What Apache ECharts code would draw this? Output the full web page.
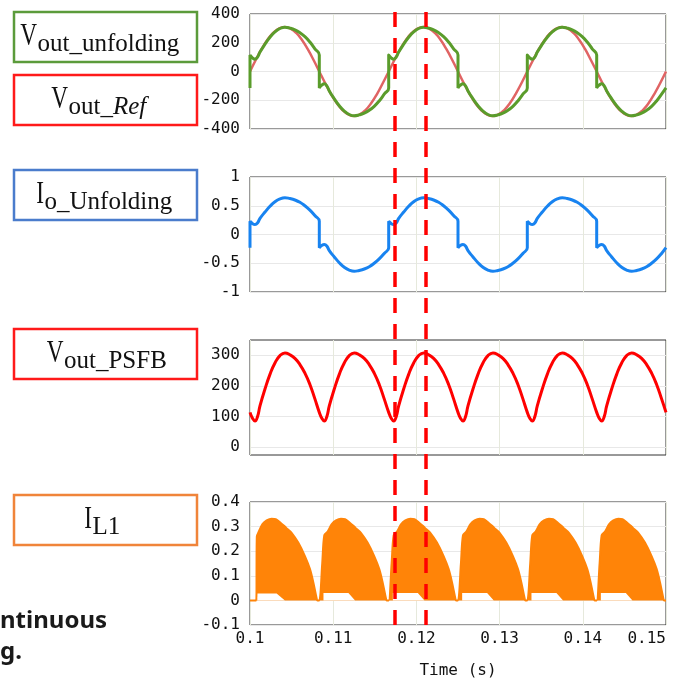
<!DOCTYPE html>
<html><head><meta charset="utf-8">
<script src="https://cdn.jsdelivr.net/npm/echarts@6/dist/echarts.min.js"></script>
<style>html,body{margin:0;padding:0;background:#fff}#c{width:673px;height:680px}</style>
</head><body><div id="c"></div><script>
// ---------- data ----------
const xTicks = [0.1, 0.11, 0.12, 0.13, 0.14, 0.15];
const psfbTicks = [0, 100, 200, 300];
const cursorTimes = [0.11744, 0.12113];

const tRef = [0.10000,0.10069,0.10139,0.10208,0.10278,0.10347,0.10417,0.10486,0.10556,0.10625,0.10694,0.10764,
0.10833,0.10903,0.10972,0.11042,0.11111,0.11181,0.11250,0.11319,0.11389,0.11458,0.11528,0.11597,
0.11667,0.11736,0.11806,0.11875,0.11944,0.12014,0.12083,0.12153,0.12222,0.12292,0.12361,0.12431,
0.12500,0.12569,0.12639,0.12708,0.12778,0.12847,0.12917,0.12986,0.13056,0.13125,0.13194,0.13264,
0.13333,0.13403,0.13472,0.13542,0.13611,0.13681,0.13750,0.13819,0.13889,0.13958,0.14028,0.14097,
0.14167,0.14236,0.14306,0.14375,0.14444,0.14514,0.14583,0.14653,0.14722,0.14792,0.14861,0.14931,0.15000];
const vRef = [0,80,155,219,268,299,310,299,268,219,155,80,0,-80,-155,-219,-268,-299,-310,-299,-268,-219,-155,-80,
0,80,155,219,268,299,310,299,268,219,155,80,0,-80,-155,-219,-268,-299,-310,-299,-268,-219,-155,-80,
0,80,155,219,268,299,310,299,268,219,155,80,0,-80,-155,-219,-268,-299,-310,-299,-268,-219,-155,-80,0];

const tUnf = [0.10000,
0.10000,0.10030,0.10060,0.10090,0.10120,0.10180,0.10240,0.10300,0.10360,0.10420,0.10480,0.10540,0.10600,0.10660,0.10720,0.10780,0.10833,
0.10833,0.10863,0.10893,0.10923,0.10953,0.11013,0.11073,0.11133,0.11193,0.11253,0.11313,0.11373,0.11433,0.11493,0.11553,0.11613,0.11667,
0.11667,0.11697,0.11727,0.11757,0.11787,0.11847,0.11907,0.11967,0.12027,0.12087,0.12147,0.12207,0.12267,0.12327,0.12387,0.12447,0.12500,
0.12500,0.12530,0.12560,0.12590,0.12620,0.12680,0.12740,0.12800,0.12860,0.12920,0.12980,0.13040,0.13100,0.13160,0.13220,0.13280,0.13333,
0.13333,0.13363,0.13393,0.13423,0.13453,0.13513,0.13573,0.13633,0.13693,0.13753,0.13813,0.13873,0.13933,0.13993,0.14053,0.14113,0.14167,
0.14167,0.14197,0.14227,0.14257,0.14287,0.14347,0.14407,0.14467,0.14527,0.14587,0.14647,0.14707,0.14767,0.14827,0.14887,0.14947,0.15000];
const vUnf = [-114,
114,95,86,100,135,190,238,275,299,308,302,290,270,242,205,158,114,
-114,-95,-86,-100,-135,-190,-238,-275,-299,-308,-302,-290,-270,-242,-205,-158,-114,
114,95,86,100,135,190,238,275,299,308,302,290,270,242,205,158,114,
-114,-95,-86,-100,-135,-190,-238,-275,-299,-308,-302,-290,-270,-242,-205,-158,-114,
114,95,86,100,135,190,238,275,299,308,302,290,270,242,205,158,114,
-114,-95,-86,-100,-135,-190,-238,-275,-299,-308,-302,-290,-270,-242,-205,-158,-114];
const iUnf = [-0.23,
0.23,0.19,0.175,0.2,0.28,0.39,0.49,0.57,0.62,0.64,0.625,0.6,0.56,0.5,0.425,0.33,0.23,
-0.23,-0.19,-0.175,-0.2,-0.28,-0.39,-0.49,-0.57,-0.62,-0.64,-0.625,-0.6,-0.56,-0.5,-0.425,-0.33,-0.23,
0.23,0.19,0.175,0.2,0.28,0.39,0.49,0.57,0.62,0.64,0.625,0.6,0.56,0.5,0.425,0.33,0.23,
-0.23,-0.19,-0.175,-0.2,-0.28,-0.39,-0.49,-0.57,-0.62,-0.64,-0.625,-0.6,-0.56,-0.5,-0.425,-0.33,-0.23,
0.23,0.19,0.175,0.2,0.28,0.39,0.49,0.57,0.62,0.64,0.625,0.6,0.56,0.5,0.425,0.33,0.23,
-0.23,-0.19,-0.175,-0.2,-0.28,-0.39,-0.49,-0.57,-0.62,-0.64,-0.625,-0.6,-0.56,-0.5,-0.425,-0.33,-0.23];

const tPsfb = [
0.10000,0.10030,0.10060,0.10090,0.10120,0.10180,0.10240,0.10300,0.10360,0.10420,0.10480,0.10540,0.10600,0.10660,0.10720,0.10780,
0.10833,0.10863,0.10893,0.10923,0.10953,0.11013,0.11073,0.11133,0.11193,0.11253,0.11313,0.11373,0.11433,0.11493,0.11553,0.11613,
0.11667,0.11697,0.11727,0.11757,0.11787,0.11847,0.11907,0.11967,0.12027,0.12087,0.12147,0.12207,0.12267,0.12327,0.12387,0.12447,
0.12500,0.12530,0.12560,0.12590,0.12620,0.12680,0.12740,0.12800,0.12860,0.12920,0.12980,0.13040,0.13100,0.13160,0.13220,0.13280,
0.13333,0.13363,0.13393,0.13423,0.13453,0.13513,0.13573,0.13633,0.13693,0.13753,0.13813,0.13873,0.13933,0.13993,0.14053,0.14113,
0.14167,0.14197,0.14227,0.14257,0.14287,0.14347,0.14407,0.14467,0.14527,0.14587,0.14647,0.14707,0.14767,0.14827,0.14887,0.14947,
0.15000];
const vPsfb = [
114,95,86,100,135,190,238,275,299,308,302,290,270,242,205,158,
114,95,86,100,135,190,238,275,299,308,302,290,270,242,205,158,
114,95,86,100,135,190,238,275,299,308,302,290,270,242,205,158,
114,95,86,100,135,190,238,275,299,308,302,290,270,242,205,158,
114,95,86,100,135,190,238,275,299,308,302,290,270,242,205,158,
114,95,86,100,135,190,238,275,299,308,302,290,270,242,205,158,
114];

const tIL = [
0.10000,0.10075,0.10082,0.10100,0.10150,0.10200,0.10260,0.10310,0.10360,0.10420,0.10450,0.10500,0.10580,0.10660,0.10720,0.10760,0.10800,0.10810,
0.10833,0.10868,0.10893,0.10933,0.10983,0.11033,0.11093,0.11143,0.11193,0.11253,0.11283,0.11333,0.11413,0.11493,0.11553,0.11593,0.11633,0.11643,
0.11667,0.11702,0.11727,0.11767,0.11817,0.11867,0.11927,0.11977,0.12027,0.12087,0.12117,0.12167,0.12247,0.12327,0.12387,0.12427,0.12467,0.12477,
0.12500,0.12535,0.12560,0.12600,0.12650,0.12700,0.12760,0.12810,0.12860,0.12920,0.12950,0.13000,0.13080,0.13160,0.13220,0.13260,0.13300,0.13310,
0.13333,0.13368,0.13393,0.13433,0.13483,0.13533,0.13593,0.13643,0.13693,0.13753,0.13783,0.13833,0.13913,0.13993,0.14053,0.14093,0.14133,0.14143,
0.14167,0.14202,0.14227,0.14267,0.14317,0.14367,0.14427,0.14477,0.14527,0.14587,0.14617,0.14667,0.14747,0.14827,0.14887,0.14927,0.14967,0.14977,
0.15000];
const uIL = [
0,0,0.26,0.275,0.31,0.325,0.332,0.33,0.318,0.30,0.29,0.275,0.235,0.18,0.128,0.075,0.01,0,
0,0.15,0.265,0.28,0.31,0.325,0.332,0.33,0.318,0.30,0.29,0.275,0.235,0.18,0.128,0.075,0.01,0,
0,0.15,0.265,0.28,0.31,0.325,0.332,0.33,0.318,0.30,0.29,0.275,0.235,0.18,0.128,0.075,0.01,0,
0,0.15,0.265,0.28,0.31,0.325,0.332,0.33,0.318,0.30,0.29,0.275,0.235,0.18,0.128,0.075,0.01,0,
0,0.15,0.265,0.28,0.31,0.325,0.332,0.33,0.318,0.30,0.29,0.275,0.235,0.18,0.128,0.075,0.01,0,
0,0.15,0.265,0.28,0.31,0.325,0.332,0.33,0.318,0.30,0.29,0.275,0.235,0.18,0.128,0.075,0.01,0,
0];
const tILlow = [0.10000,0.10088,0.10088,0.10320,0.10370,0.10420,
0.10883,0.10883,0.11183,0.11223,0.11263,
0.11717,0.11717,0.12017,0.12057,0.12097,
0.12550,0.12550,0.12850,0.12890,0.12930,
0.13383,0.13383,0.13683,0.13723,0.13763,
0.14217,0.14217,0.14517,0.14557,0.14597,
0.15000];
const lIL = [0,0,0.028,0.028,0.014,0,
0,0.03,0.03,0.015,0,
0,0.03,0.03,0.015,0,
0,0.03,0.03,0.015,0,
0,0.03,0.03,0.015,0,
0,0.03,0.03,0.015,0,
0];

// ---------- build ----------
const zip = (t, v) => t.map((x, i) => [x, v[i]]);
const MONO = '"DejaVu Sans Mono", monospace';
const GRIDC = '#e8e8e8';
const lbl = { fontFamily: MONO, fontSize: 16, color: '#111', margin: 10 };

function xAx(i, showLabels) {
  const a = { gridIndex: i, type: 'value', min: 0.1, max: 0.15, interval: 0.01,
    axisLine: { show: false }, axisTick: { show: false },
    splitLine: { show: true, lineStyle: { color: '#e6e9dc', width: 1 } },
    axisLabel: { show: false } };
  if (showLabels) {
    a.axisLabel = { show: true, fontFamily: MONO, fontSize: 16, color: '#111', margin: 6,
      alignMaxLabel: 'right', formatter: v => String(+v.toFixed(2)) };
    a.name = 'Time (s)'; a.nameLocation = 'middle'; a.nameGap = 38;
    a.nameTextStyle = { fontFamily: MONO, fontSize: 16, color: '#111' };
  }
  return a;
}
function yAx(i, min, max, interval) {
  return { gridIndex: i, type: 'value', min, max, interval,
    axisLine: { show: false }, axisTick: { show: false },
    splitLine: { show: true, lineStyle: { color: GRIDC, width: 1 } },
    axisLabel: Object.assign({}, lbl) };
}
const gridBase = { left: 250, width: 416, show: true, borderColor: '#333', borderWidth: 1, backgroundColor: 'transparent' };

const y3 = yAx(2, -25, 350);
delete y3.interval;
y3.axisLabel.customValues = psfbTicks;
y3.axisTick = { show: false, customValues: psfbTicks };

const SERIF = '"Liberation Serif", "Times New Roman", serif';
function labelBox(top, color, main, sub, x0, rich) {
  return [
    { type: 'rect', shape: { x: 14, y: top, width: 183, height: 50 },
      style: { fill: '#fff', stroke: color, lineWidth: 2.5 } },
    { type: 'text', x: x0, y: top + 24.5, scaleX: 0.75,
      style: { text: main, font: '31px ' + SERIF, fill: '#111', textAlign: 'right', textVerticalAlign: 'middle', align: 'right', verticalAlign: 'middle' } },
    { type: 'text', x: x0 + 0.5, y: top + 32.8,
      style: { text: sub, font: '25px ' + SERIF, fill: '#111', textAlign: 'left', textVerticalAlign: 'middle', align: 'left', verticalAlign: 'middle', rich: rich || undefined } }
  ];
}
const graphics = [].concat(
  labelBox(12, '#5b9b3b', 'V', 'out_unfolding', 37),
  labelBox(75, '#ff1a1a', 'V', 'out_{i|Ref}', 68, { i: { font: 'italic 25px ' + SERIF, fill: '#111' } }),
  labelBox(170, '#4a7ccc', 'I', 'o_Unfolding', 44),
  labelBox(329, '#ff1a1a', 'V', 'out_PSFB', 63.5),
  labelBox(495, '#f0843a', 'I', 'L1', 92),
  [
    { type: 'text', x: 0, y: 621, style: { text: 'ntinuous', font: 'bold 24px "Noto Sans", sans-serif', fill: '#1a1a1a', textAlign: 'left', textVerticalAlign: 'middle', align: 'left', verticalAlign: 'middle' } },
    { type: 'text', x: 0, y: 652, style: { text: 'g.', font: 'bold 24px "Noto Sans", sans-serif', fill: '#1a1a1a', textAlign: 'left', textVerticalAlign: 'middle', align: 'left', verticalAlign: 'middle' } }
  ]
);

const option = {
  animation: false,
  backgroundColor: '#fff',
  grid: [
    Object.assign({ top: 14, height: 115 }, gridBase),
    Object.assign({ top: 177, height: 115 }, gridBase),
    Object.assign({ top: 340, height: 115 }, gridBase),
    Object.assign({ top: 502, height: 124 }, gridBase),
    { left: 250, width: 416, top: 12, height: 616, show: false }
  ],
  xAxis: [xAx(0, false), xAx(1, false), xAx(2, false), xAx(3, true),
    { gridIndex: 4, type: 'value', min: 0.1, max: 0.15, show: false }],
  yAxis: [yAx(0, -400, 400, 200), yAx(1, -1, 1, 0.5), y3, yAx(3, -0.1, 0.4, 0.1),
    { gridIndex: 4, type: 'value', min: 0, max: 1, show: false }],
  series: [
    { name: 'Vout_Ref', type: 'line', xAxisIndex: 0, yAxisIndex: 0, data: zip(tRef, vRef),
      showSymbol: false, smooth: 0.5, lineStyle: { color: '#e06464', width: 2.5 } },
    { name: 'Vout_unfolding', type: 'line', xAxisIndex: 0, yAxisIndex: 0, data: zip(tUnf, vUnf),
      showSymbol: false, smooth: 0.5, lineStyle: { color: '#5a9c2b', width: 3 } },
    { name: 'Io_Unfolding', type: 'line', xAxisIndex: 1, yAxisIndex: 1, data: zip(tUnf, iUnf),
      showSymbol: false, smooth: 0.5, lineStyle: { color: '#1883f0', width: 3 } },
    { name: 'Vout_PSFB', type: 'line', xAxisIndex: 2, yAxisIndex: 2, data: zip(tPsfb, vPsfb),
      showSymbol: false, smooth: 0.5, lineStyle: { color: '#ff0000', width: 3 } },
    { name: 'IL1', type: 'line', xAxisIndex: 3, yAxisIndex: 3, data: zip(tIL, uIL),
      showSymbol: false, smooth: 0.3, lineStyle: { color: '#ff8408', width: 2 },
      areaStyle: { color: '#ff8408', opacity: 1 } },
    { name: 'IL1_low', type: 'line', xAxisIndex: 3, yAxisIndex: 3, data: zip(tILlow, lIL),
      showSymbol: false, lineStyle: { width: 0, opacity: 0 },
      areaStyle: { color: '#ffffff', opacity: 1 } },
    { name: 'cursors', type: 'line', xAxisIndex: 4, yAxisIndex: 4, data: [], z: 20,
      markLine: { silent: true, symbol: 'none', label: { show: false }, animation: false,
        lineStyle: { color: '#ff0000', width: 3.5, type: [15, 11] },
        data: cursorTimes.map(t => [{ coord: [t, 1] }, { coord: [t, 0] }]) } }
  ],
  graphic: { elements: graphics }
};
const chart = echarts.init(document.getElementById('c'), null, { renderer: 'canvas' });
chart.setOption(option);
</script></body></html>
